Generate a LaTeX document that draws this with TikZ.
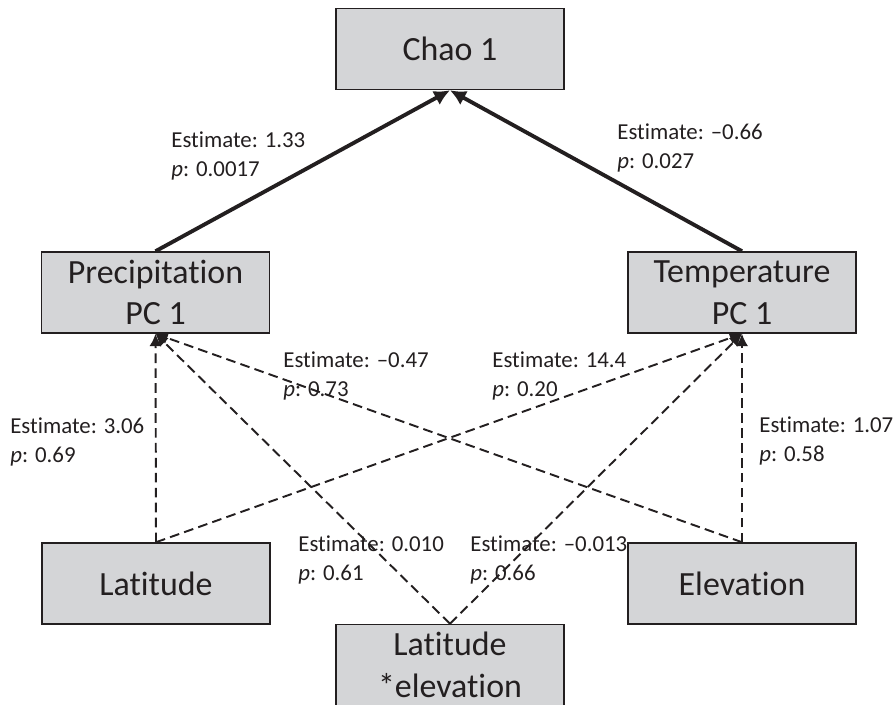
\documentclass[tikz,border=0pt]{standalone}
\usepackage{fontspec}
\setmainfont{Carlito}[Ligatures={NoCommon,NoContextual}]
\usetikzlibrary{arrows.meta}
\definecolor{boxgray}{RGB}{212,213,215}
\definecolor{ink}{RGB}{35,31,32}
\tikzstyle{var} = [rectangle, minimum width=4.56cm, minimum height=1.62cm, inner sep=0pt, text centered, align=center, draw=ink, line width=0.9pt, fill=boxgray, text=ink, font=\fontsize{19.3}{23.8}\selectfont]
\tikzstyle{est} = [anchor=west, inner sep=0pt, align=left, text=ink, font=\fontsize{13}{16.5}\selectfont]
\tikzstyle{arrow} = [draw=ink, line width=2.2pt, -{Latex[length=9pt,width=9pt]}]
\tikzstyle{darrow} = [draw=ink, line width=1.1pt, dash pattern=on 5.5pt off 3pt, -{Latex[length=7pt,width=7pt]}]

\begin{document}
\begin{tikzpicture}[x=0.02cm, y=-0.02cm]
    \useasboundingbox (0,0) rectangle (895,704);

    % Boxes
    \node (chao) [var] at (450,49) {Chao 1};
    \node (precip) [var] at (155.5,292.5) {Precipitation\\PC 1};
    \node (temp) [var] at (742,292.5) {Temperature\\PC 1};
    \node (lat) [var] at (156,583.5) {Latitude};
    \node (elev) [var] at (742,583.5) {Elevation};
    \node (latelev) [var] at (450,665) {Latitude\\*elevation};

    % Arrows
    \draw [arrow] (precip.north) -- (chao.south);
    \draw [arrow] (temp.north) -- (chao.south);
    \draw [darrow] (lat.north) -- (precip.south);
    \draw [darrow] (lat.north) -- (temp.south);
    \draw [darrow] (elev.north) -- (temp.south);
    \draw [darrow] (elev.north) -- (precip.south);
    \draw [darrow] (latelev.north) -- (precip.south);
    \draw [darrow] (latelev.north) -- (temp.south);

    % Estimates
    \node (e1) [est] at (171,156) {Estimate: 1.33\\\textit{p}: 0.0017};
    \node (e2) [est] at (617,148) {Estimate: –0.66\\\textit{p}: 0.027};
    \node (e3) [est] at (283,376) {Estimate: –0.47\\\textit{p}: 0.73};
    \node (e4) [est] at (492,376) {Estimate: 14.4\\\textit{p}: 0.20};
    \node (e5) [est] at (10,442) {Estimate: 3.06\\\textit{p}: 0.69};
    \node (e6) [est] at (759,441) {Estimate: 1.07\\\textit{p}: 0.58};
    \node (e7) [est] at (298,560) {Estimate: 0.010\\\textit{p}: 0.61};
    \node (e8) [est] at (470,560) {Estimate: –0.013\\\textit{p}: 0.66};
\end{tikzpicture}
\end{document}
